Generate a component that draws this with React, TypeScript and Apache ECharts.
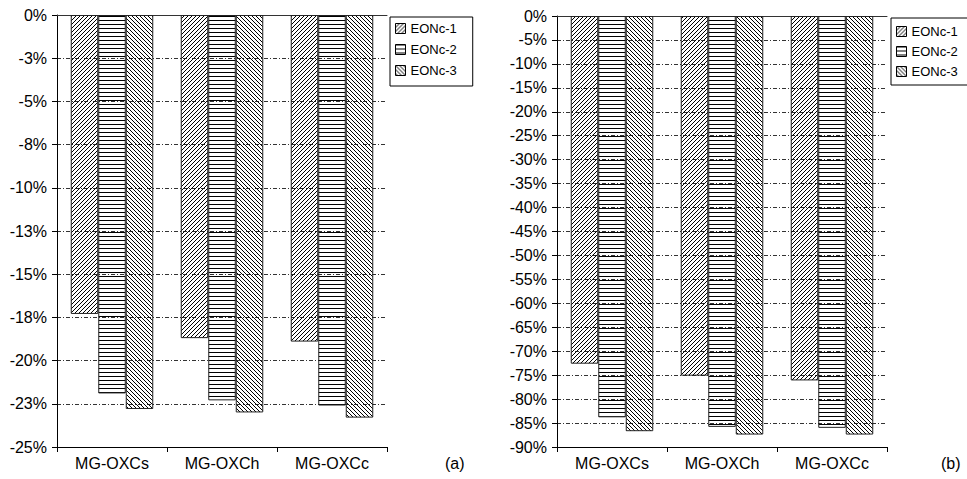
import React, { useEffect, useRef } from "react";
import * as echarts from "echarts";

const categories = ["MG-OXCs", "MG-OXCh", "MG-OXCc"];
const seriesNames = ["EONc-1", "EONc-2", "EONc-3"];

// Panel (a)
const leftEON1 = [-17.3, -18.7, -18.9];
const leftEON2 = [-21.9, -22.3, -22.6];
const leftEON3 = [-22.8, -23.0, -23.3];
// Panel (b)
const rightEON1 = [-72.6, -75.1, -76.1];
const rightEON2 = [-83.8, -85.8, -86.0];
const rightEON3 = [-86.7, -87.4, -87.4];

const leftTickLabels = ["0%", "-3%", "-5%", "-8%", "-10%", "-13%", "-15%", "-18%", "-20%", "-23%", "-25%"];
const rightTickLabels = [
  "0%", "-5%", "-10%", "-15%", "-20%", "-25%", "-30%", "-35%", "-40%", "-45%",
  "-50%", "-55%", "-60%", "-65%", "-70%", "-75%", "-80%", "-85%", "-90%",
];
const panelLabels = ["(a)", "(b)"];

const FONT = "'Liberation Sans', Arial, Helvetica, sans-serif";

const svgUrl = (d: string, w: number) =>
  "data:image/svg+xml;charset=utf-8," +
  encodeURIComponent(
    `<svg xmlns="http://www.w3.org/2000/svg" width="4" height="4"><path d="${d}" stroke="#000" stroke-width="${w}" fill="none"/></svg>`
  );
const pat = (d: string, w: number): any => ({ image: svgUrl(d, w), repeat: "repeat", imageWidth: 4, imageHeight: 4 });
const fwd = pat("M0,4L4,0M-1,1L1,-1M3,5L5,3", 1);
const horiz = pat("M0,0.5L4,0.5", 1);
const back = pat("M0,0L4,4M-1,3L1,5M3,-1L5,1", 1);
const fills = [fwd, horiz, back];

export default function App() {
  const ref = useRef<HTMLDivElement>(null);
  useEffect(() => {
    if (!ref.current) return;
    const chart = echarts.init(ref.current, undefined, { renderer: "svg" });

    const mkSeries = (name: string, data: number[], fill: any, xi: number, yi: number) => ({
      type: "bar",
      name,
      data,
      xAxisIndex: xi,
      yAxisIndex: yi,
      barGap: "0%",
      barCategoryGap: "25%",
      itemStyle: { color: fill, borderColor: "#222", borderWidth: 1 },
      emphasis: { disabled: true },
    });

    const bottomX = (gi: number) => ({
      type: "category",
      gridIndex: gi,
      data: categories,
      position: "bottom",
      boundaryGap: true,
      axisLine: { show: true, onZero: false, lineStyle: { color: "#000", width: 1 } },
      axisTick: { show: true, length: 5, interval: 0, alignWithLabel: false, lineStyle: { color: "#000" } },
      axisLabel: { fontSize: 16, fontFamily: FONT, color: "#000", margin: 8, interval: 0 },
      splitLine: { show: false },
    });
    const topX = (gi: number) => ({
      type: "category",
      gridIndex: gi,
      data: categories,
      position: "top",
      axisLine: { show: true, onZero: false, lineStyle: { color: "#333", width: 1 } },
      axisTick: { show: false },
      axisLabel: { show: false },
      splitLine: { show: false },
    });
    const valY = (gi: number, min: number, interval: number, labels: string[]) => ({
      type: "value",
      gridIndex: gi,
      min,
      max: 0,
      interval,
      axisLine: { show: true, lineStyle: { color: "#000", width: 1 } },
      axisTick: { show: true, length: 5, lineStyle: { color: "#000" } },
      axisLabel: {
        fontSize: 16,
        fontFamily: FONT,
        color: "#000",
        margin: 10,
        formatter: (v: number) => labels[Math.round(-v / interval)] ?? "",
      },
      splitLine: { show: true, lineStyle: { color: "#333", width: 1, type: [4, 2, 1, 2] } },
    });

    const legendBase = {
      data: seriesNames,
      orient: "vertical",
      itemWidth: 10,
      itemHeight: 10,
      icon: "rect",
      borderColor: "#000",
      borderWidth: 1,
      backgroundColor: "#fff",
      selectedMode: false,
      itemStyle: { borderColor: "#000", borderWidth: 1 },
      textStyle: { fontSize: 13, fontFamily: FONT, color: "#000" },
    };

    chart.setOption({
      animation: false,
      backgroundColor: "#fff",
      grid: [
        { left: 57, top: 15, width: 330, height: 432 },
        { left: 557, top: 16, width: 330, height: 431 },
      ],
      xAxis: [bottomX(0), topX(0), bottomX(1), topX(1)],
      yAxis: [valY(0, -25, 2.5, leftTickLabels), valY(1, -90, 5, rightTickLabels)],
      legend: [
        { ...legendBase, left: 390, top: 17, itemGap: 8, padding: [5, 16, 9, 5] },
        { ...legendBase, left: 891, top: 18, itemGap: 7, padding: [7, 10, 7, 5] },
      ],
      graphic: [
        { type: "text", left: 445, top: 455, style: { text: panelLabels[0], font: `16px ${FONT}`, fill: "#000" } },
        { type: "text", left: 941, top: 455, style: { text: panelLabels[1], font: `16px ${FONT}`, fill: "#000" } },
      ],
      series: [
        mkSeries(seriesNames[0], leftEON1, fills[0], 0, 0),
        mkSeries(seriesNames[1], leftEON2, fills[1], 0, 0),
        mkSeries(seriesNames[2], leftEON3, fills[2], 0, 0),
        mkSeries(seriesNames[0], rightEON1, fills[0], 2, 1),
        mkSeries(seriesNames[1], rightEON2, fills[1], 2, 1),
        mkSeries(seriesNames[2], rightEON3, fills[2], 2, 1),
      ],
    });
    return () => chart.dispose();
  }, []);
  return <div ref={ref} style={{ position: "absolute", left: 0, top: 0, width: 967, height: 479 }} />;
}
